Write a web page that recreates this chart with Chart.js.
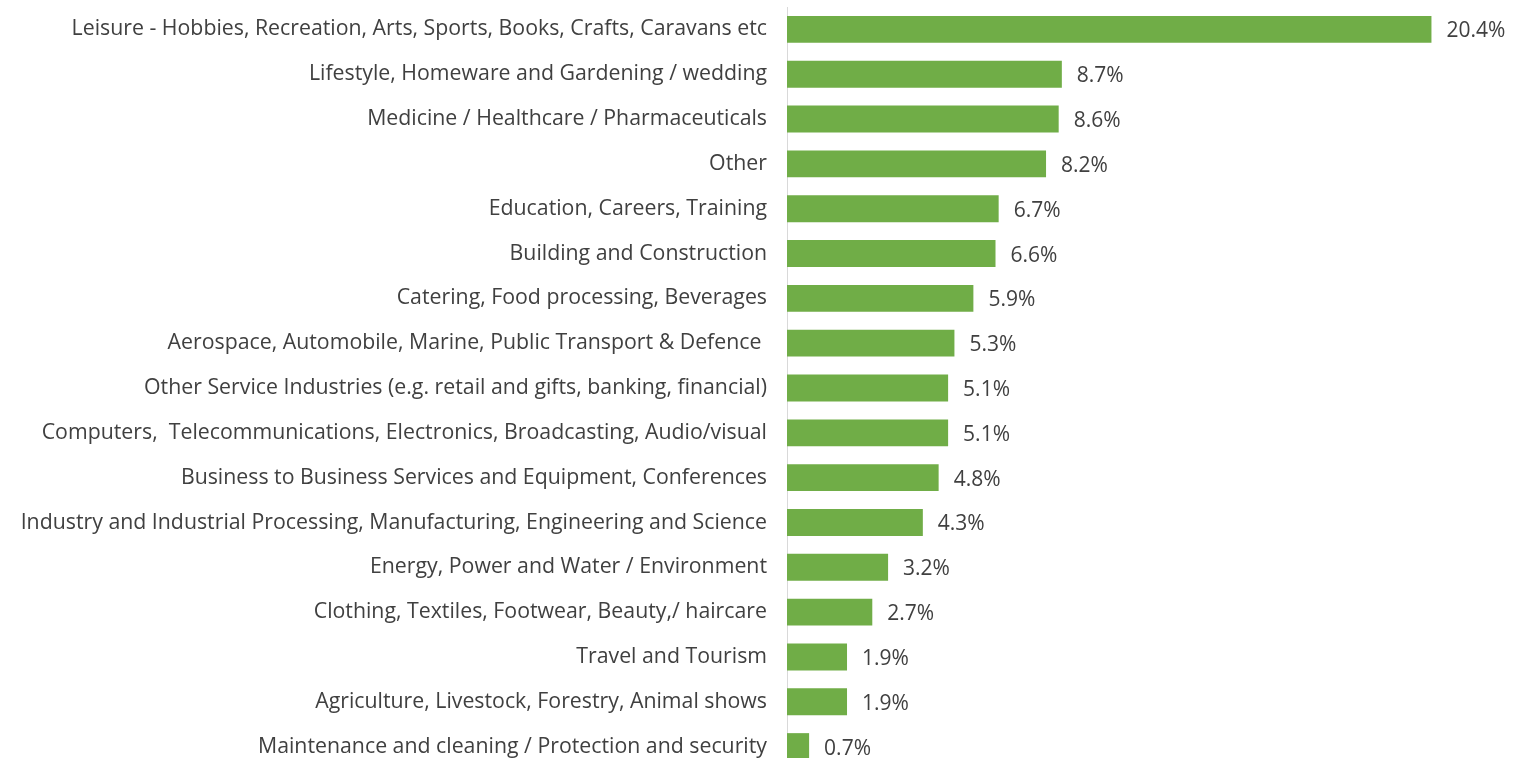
<!DOCTYPE html>
<html>
<head>
<meta charset="utf-8">
<script src="https://cdn.jsdelivr.net/npm/chart.js@4/dist/chart.umd.min.js"></script>
<style>
  html, body { margin: 0; padding: 0; background: #fff; overflow: hidden; }
</style>
</head>
<body>
<canvas id="sectors-chart" width="1532" height="776"></canvas>
<script>
const sectors = [
    'Leisure - Hobbies, Recreation, Arts, Sports, Books, Crafts, Caravans etc',
    'Lifestyle, Homeware and Gardening / wedding',
    'Medicine / Healthcare / Pharmaceuticals',
    'Other',
    'Education, Careers, Training',
    'Building and Construction',
    'Catering, Food processing, Beverages',
    'Aerospace, Automobile, Marine, Public Transport & Defence ',
    'Other Service Industries (e.g. retail and gifts, banking, financial)',
    'Computers,  Telecommunications, Electronics, Broadcasting, Audio/visual',
    'Business to Business Services and Equipment, Conferences',
    'Industry and Industrial Processing, Manufacturing, Engineering and Science',
    'Energy, Power and Water / Environment',
    'Clothing, Textiles, Footwear, Beauty,/ haircare',
    'Travel and Tourism',
    'Agriculture, Livestock, Forestry, Animal shows',
    'Maintenance and cleaning / Protection and security'
];
const shares = [20.4, 8.7, 8.6, 8.2, 6.7, 6.6, 5.9, 5.3, 5.1, 5.1, 4.8, 4.3, 3.2, 2.7, 1.9, 1.9, 0.7];

const textColor = '#404040';
const fontFamily = '"Open Sans", "Noto Sans", sans-serif';

// writes "x.x%" just past the end of each bar
const valueLabels = {
    id: 'valueLabels',
    afterDatasetsDraw(chart) {
        const ctx = chart.ctx;
        const meta = chart.getDatasetMeta(0);
        ctx.save();
        ctx.font = '21px ' + fontFamily;
        ctx.fillStyle = textColor;
        ctx.textAlign = 'left';
        ctx.textBaseline = 'middle';
        meta.data.forEach((bar, i) => {
            ctx.fillText(shares[i].toFixed(1) + '%', bar.x + 15, bar.y + 2);
        });
        ctx.restore();
    }
};

const ctx = document.getElementById('sectors-chart');
const chart = new Chart(ctx, {
    type: 'bar',
    data: {
        labels: sectors,
        datasets: [{
            data: shares,
            backgroundColor: '#70ad47',
            borderWidth: 0,
            categoryPercentage: 0.6,
            barPercentage: 1.0
        }]
    },
    options: {
        indexAxis: 'y',
        responsive: false,
        animation: false,
        layout: {
            padding: { top: 7, bottom: 7, left: 0, right: 50 }
        },
        plugins: {
            legend: { display: false },
            tooltip: { enabled: false }
        },
        scales: {
            x: {
                display: false,
                min: 0,
                max: 22
            },
            y: {
                afterFit(scale) {
                    scale.width = 787;
                    // no extra room for half label heights at the ends
                    scale.paddingTop = 0;
                    scale.paddingBottom = 0;
                },
                grid: { display: false, drawTicks: false },
                border: { display: true, color: '#d9d9d9', width: 1 },
                ticks: {
                    color: textColor,
                    padding: 20,
                    autoSkip: false,
                    font: { family: fontFamily, size: 21.3 }
                }
            }
        }
    },
    plugins: [valueLabels]
});
</script>
</body>
</html>
